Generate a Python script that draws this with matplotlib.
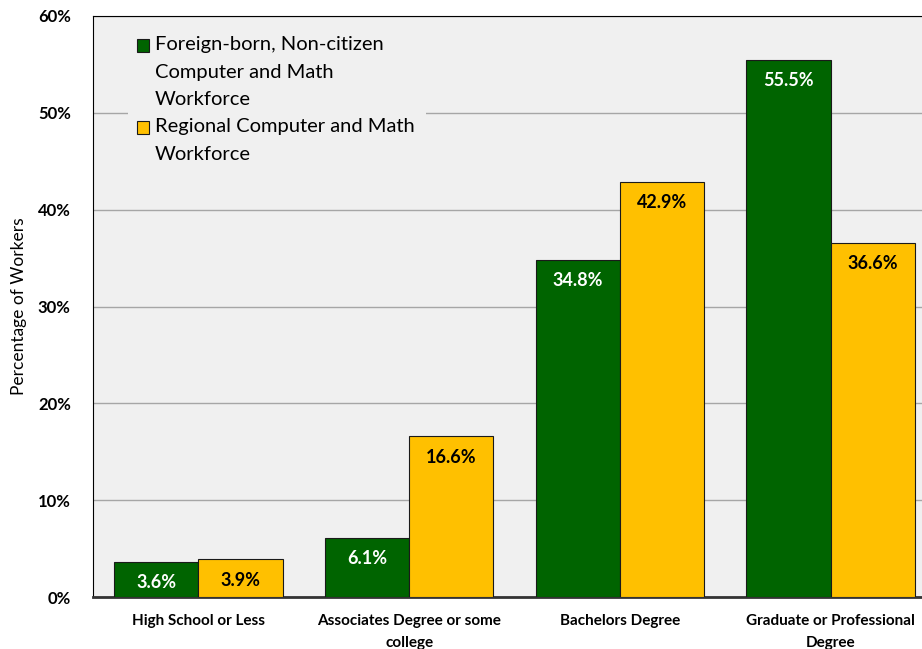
import numpy as np
import matplotlib
matplotlib.use('Agg')
import matplotlib.pyplot as plt
from matplotlib.patches import Rectangle

plt.rcParams['font.family'] = ['Lato', 'DejaVu Sans']

categories = ['High School or Less', 'Associates Degree or some\ncollege',
              'Bachelors Degree', 'Graduate or Professional\nDegree']
foreign = [3.6, 6.1, 34.8, 55.5]
regional = [3.9, 16.6, 42.9, 36.6]
series_names = ['Foreign-born, Non-citizen\nComputer and Math\nWorkforce',
                'Regional Computer and Math\nWorkforce']
yticks = [0, 10, 20, 30, 40, 50, 60]

green = '#006400'
yellow = '#FFC000'
bg = '#F0F0F0'
W, H = 922, 649

fig = plt.figure(figsize=(W / 100, H / 100), dpi=100)
ax = fig.add_axes([93 / W, 52 / H, 843 / W, 581 / H])
ax.set_facecolor(bg)

x = np.arange(len(categories))
w = 0.4
b1 = ax.bar(x - w / 2, foreign, w, color=green, edgecolor='#1a1a1a', linewidth=0.8, zorder=3)
b2 = ax.bar(x + w / 2, regional, w, color=yellow, edgecolor='#1a1a1a', linewidth=0.8, zorder=3)

for rect, v in zip(b1, foreign):
    ax.text(rect.get_x() + rect.get_width() / 2, v - 2.15, f'{v:.1f}%', ha='center',
            va='center', color='white', fontsize=13, fontweight='bold', zorder=4)
for rect, v in zip(b2, regional):
    ax.text(rect.get_x() + rect.get_width() / 2, v - 2.15, f'{v:.1f}%', ha='center',
            va='center', color='black', fontsize=13, fontweight='bold', zorder=4)

ax.set_xlim(-0.5, 3.5)
ax.set_ylim(0, 60)
ax.set_yticks(yticks)
ax.set_yticklabels([f'{t}%' for t in yticks], fontweight='bold', fontsize=12)
ax.yaxis.grid(True, color='#A6A6A6', linewidth=1, zorder=0)
ax.set_axisbelow(True)
ax.tick_params(axis='y', length=0, pad=16)
ax.set_xticks(x)
ax.set_xticklabels(categories, fontweight='bold', fontsize=11, linespacing=1.75)
ax.tick_params(axis='x', length=0, pad=12)

ax.spines['top'].set_color('black')
ax.spines['left'].set_color('black')
ax.spines['bottom'].set_color('#333333')
ax.spines['bottom'].set_linewidth(2)
ax.spines['right'].set_visible(False)

ax.set_ylabel('Percentage of Workers', fontsize=12.5)
ax.yaxis.set_label_coords(-0.078, 0.5)

# legend drawn by hand so the swatch sits on the first text line
fig.patches.append(Rectangle((128 / W, 1 - 178 / H), 298 / W, 150 / H,
                             transform=fig.transFigure, facecolor=bg,
                             edgecolor='none', zorder=1))
for (ytop, color, name) in [(39, green, series_names[0]), (121, yellow, series_names[1])]:
    fig.patches.append(Rectangle((137 / W, 1 - (ytop + 13) / H), 12 / W, 13 / H,
                                 transform=fig.transFigure, facecolor=color,
                                 edgecolor='#1a1a1a', linewidth=0.8, zorder=2))
    fig.text(155 / W, 1 - (ytop - 3) / H, name, fontsize=14.5, va='top', ha='left',
             linespacing=1.76, zorder=2)

fig.savefig('out.png', dpi=100)
